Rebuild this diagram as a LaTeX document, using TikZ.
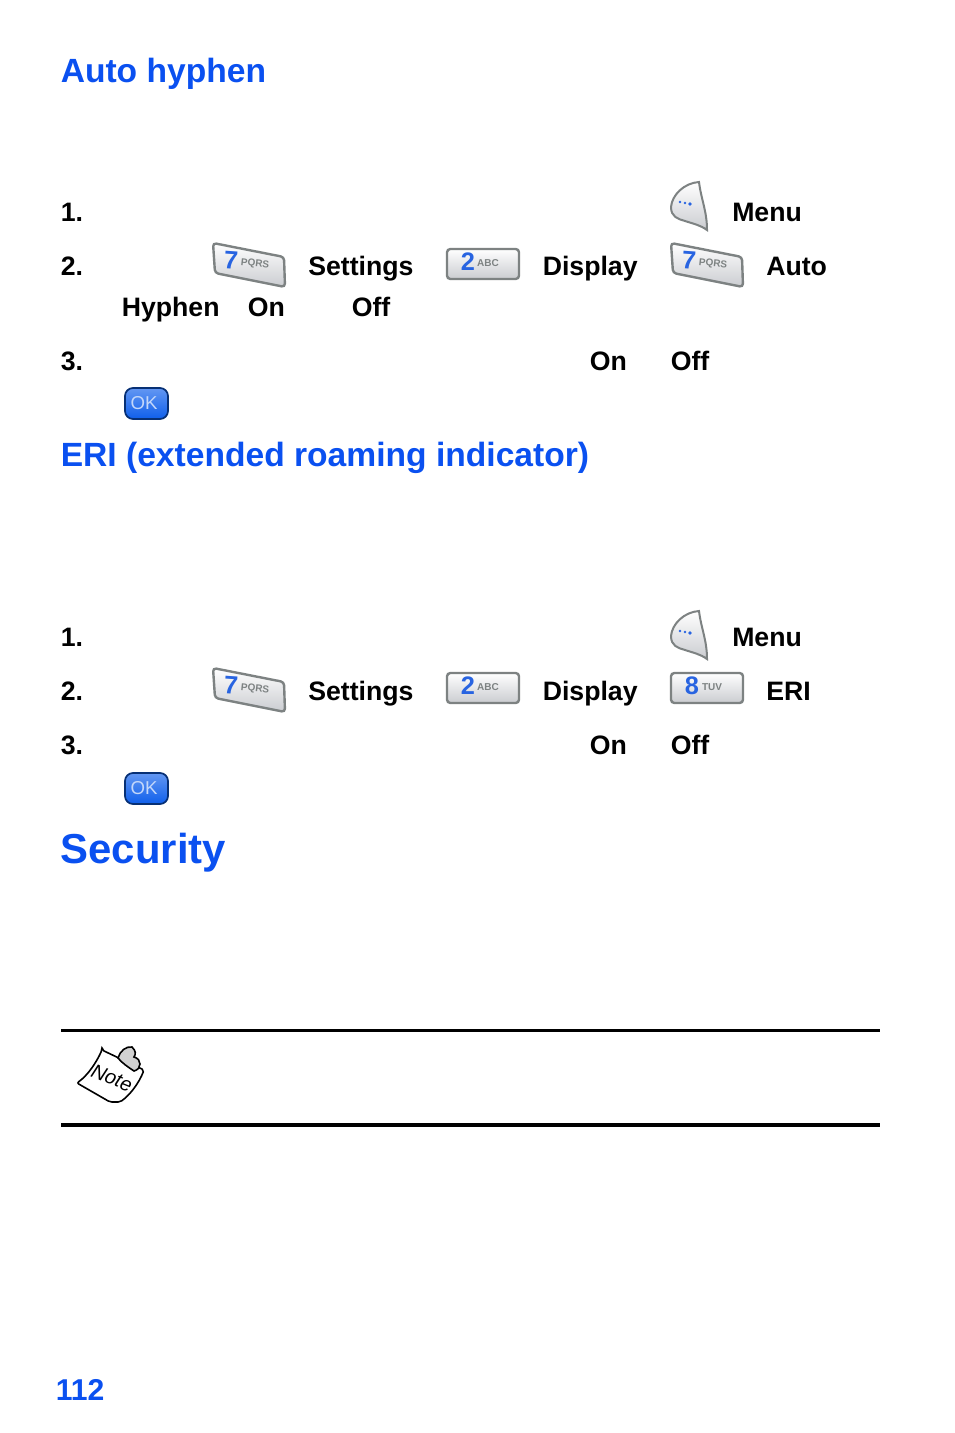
\documentclass[tikz,border=0pt]{standalone}
\usepackage{fontspec}
\setmainfont{Liberation Sans}
\definecolor{headblue}{RGB}{10,80,240}
\definecolor{keyblue}{RGB}{40,100,225}
\definecolor{okblue}{RGB}{15,95,235}
\definecolor{keyedge}{RGB}{125,130,130}
\definecolor{keyface}{RGB}{238,240,245}
\tikzset{
  steptext/.style={anchor=base west, inner sep=0pt, font=\fontsize{20}{24}\selectfont\bfseries},
  headtext/.style={anchor=base west, inner sep=0pt, text=headblue, font=\fontsize{25.2}{30}\selectfont\bfseries},
  toptext/.style={anchor=base west, inner sep=0pt, text=headblue, font=\fontsize{31.4}{36}\selectfont\bfseries},
  pagetext/.style={anchor=base west, inner sep=0pt, text=headblue, font=\fontsize{22.6}{26}\selectfont\bfseries},
  keyshape/.style={draw=keyedge, line width=1.8pt, top color=white, bottom color=keyface!85!black, rounded corners=2.5pt},
  keydigit/.style={inner sep=0pt, text=keyblue, font=\fontsize{19}{19}\selectfont\bfseries},
  keyletters/.style={inner sep=0pt, text=keyedge, font=\fontsize{7.5}{8}\selectfont\bfseries},
  pics/keyflat/.style 2 args={code={
    \path[keyshape] (1,1) -- (73,1) -- (73,31) -- (1,31) -- cycle;
    \node[keydigit] at (22,14) {#1};
    \node[keyletters] at (42,15) {#2};
  }},
  pics/keyslant/.style 2 args={code={
    \path[keyshape] (1,1) -- (72,15) -- (73,45) -- (3,31) -- cycle;
    \node[keydigit, rotate=-4] at (19,18) {#1};
    \node[keyletters, rotate=-6] at (43,22) {#2};
  }},
  pics/softkey/.style={code={
    \path[draw=keyedge, line width=1.5pt, top color=white, bottom color=keyface!85!black] (29,1) .. controls (14,2) and (2,14) .. (1,26) .. controls (1,36) and (8,38) .. (15,40) .. controls (24,43) and (30,44) .. (37,49) .. controls (37,30) and (31,18) .. (29,1) -- cycle;
    \fill[keyblue] (10,21) circle (1.3) (15,22) circle (1.3) (20,23) circle (1.8);
  }},
  pics/okkey/.style={code={
    \path[draw=okblue!50!black, line width=1.3pt, top color=okblue!65!white, bottom color=okblue, rounded corners=6pt] (1,1) rectangle (44,32);
    \node[inner sep=0pt, text=white!75!okblue, font=\fontsize{14}{14}\selectfont] at (20,16) {OK};
  }},
  pics/notepaper/.style={code={
    \draw[line width=1.2pt, fill=white, rounded corners=1.5pt] (26,5) -- (68,25) .. controls (63,38) and (54,50) .. (44,57) -- (34,57) -- (1,38) .. controls (12,30) and (20,18) .. (26,5) -- cycle;
    \draw[line width=1.2pt, fill=black!18] (42,13) .. controls (44,6) and (50,1) .. (56,2) .. controls (60,6) and (60,9) .. (58,12) .. controls (66,14) and (66,24) .. (58,26) .. controls (52,22) and (46,18) .. (42,13) -- cycle;
    \node[inner sep=0pt, rotate=-22, font=\fontsize{15}{15}\selectfont\itshape] (notelabel) at (36,33) {Note};
  }},
}
\begin{document}
\begin{tikzpicture}[x=0.75pt, y=-0.75pt]
  \useasboundingbox (0,0) rectangle (954,1433);

  % First setting
  \node[headtext] (hyphenhead) at (60.5,83) {Auto hyphen};
  \node[steptext] (hyphenone) at (60.5,222) {1.};
  \pic at (670,181) {softkey};
  \node[steptext] (hyphenmenu) at (732,222) {Menu};
  \node[steptext] (hyphentwo) at (60.5,276) {2.};
  \pic at (212,242) {keyslant={7}{PQRS}};
  \node[steptext] (hyphensettings) at (308,276) {Settings};
  \pic at (446,248) {keyflat={2}{ABC}};
  \node[steptext] (hyphendisplay) at (542.5,276) {Display};
  \pic at (670,242) {keyslant={7}{PQRS}};
  \node[steptext] (hyphenauto) at (766,276) {Auto};
  \node[steptext] (hyphenword) at (121.5,317) {Hyphen};
  \node[steptext] (hyphenon) at (247.5,317) {On};
  \node[steptext] (hyphenoff) at (351.5,317) {Off};
  \node[steptext] (hyphenthree) at (60.5,371) {3.};
  \node[steptext] (hyphenontwo) at (589.5,371) {On};
  \node[steptext] (hyphenofftwo) at (670.5,371) {Off};
  \pic at (124,387) {okkey};

  % Second setting
  \node[headtext] (erihead) at (60.5,466) {ERI (extended roaming indicator)};
  \node[steptext] (erione) at (60.5,646) {1.};
  \pic at (670,610) {softkey};
  \node[steptext] (erimenu) at (732,646) {Menu};
  \node[steptext] (eritwo) at (60.5,700) {2.};
  \pic at (212,667) {keyslant={7}{PQRS}};
  \node[steptext] (erisettings) at (308,700) {Settings};
  \pic at (446,672) {keyflat={2}{ABC}};
  \node[steptext] (eridisplay) at (542.5,700) {Display};
  \pic at (670,672) {keyflat={8}{TUV}};
  \node[steptext] (eriname) at (766,700) {ERI};
  \node[steptext] (erithree) at (60.5,754) {3.};
  \node[steptext] (erion) at (589.5,754) {On};
  \node[steptext] (erioff) at (670.5,754) {Off};
  \pic at (124,772) {okkey};

  % Security and the note box
  \node[toptext] (securityhead) at (60.5,863) {Security};
  \coordinate (ruletopl) at (61,1030.5);
  \coordinate (ruletopr) at (880,1030.5);
  \coordinate (rulebotl) at (61,1125);
  \coordinate (rulebotr) at (880,1125);
  \draw[line width=2.3pt] (ruletopl) -- (ruletopr);
  \draw[line width=2.6pt] (rulebotl) -- (rulebotr);
  \pic at (76,1045) {notepaper};

  \node[pagetext] (pagenum) at (55.5,1400) {112};
\end{tikzpicture}
\end{document}
